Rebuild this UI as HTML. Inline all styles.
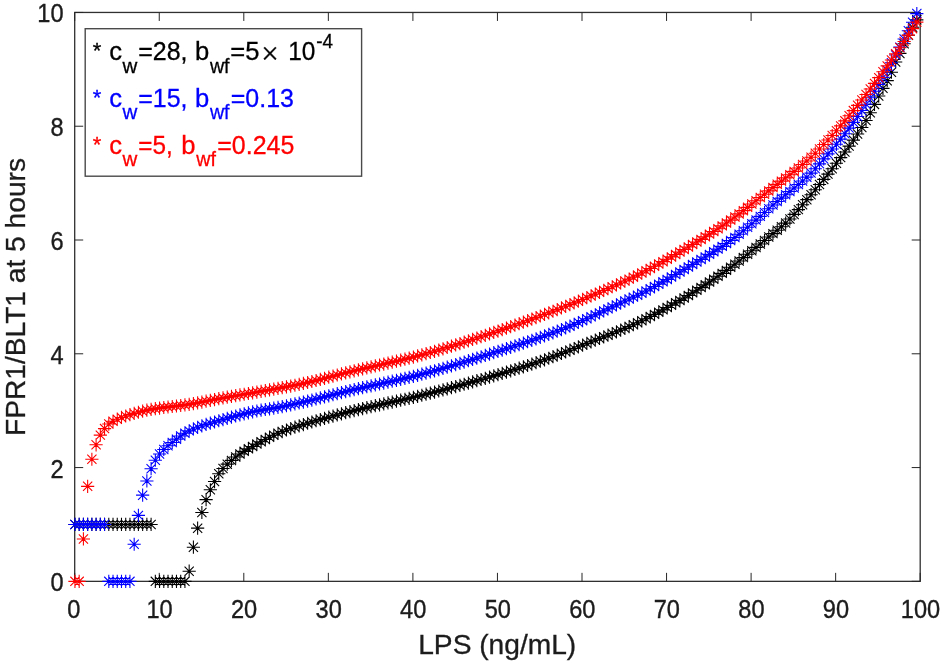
<!DOCTYPE html>
<html><head><meta charset="utf-8"><title>FPR1/BLT1 vs LPS</title>
<style>
html,body{margin:0;padding:0;background:#fff;}
svg{display:block;font-family:"Liberation Sans",sans-serif;}
</style></head>
<body>
<svg width="945" height="665" viewBox="0 0 945 665">
<rect width="945" height="665" fill="#fff"/>
<rect x="74.7" y="12.45" width="845.5" height="568.9" fill="none" stroke="#303030" stroke-width="1.3"/>
<path d="M74.70 581.35v-8.5M74.70 12.45v8.5M159.25 581.35v-8.5M159.25 12.45v8.5M243.80 581.35v-8.5M243.80 12.45v8.5M328.35 581.35v-8.5M328.35 12.45v8.5M412.90 581.35v-8.5M412.90 12.45v8.5M497.45 581.35v-8.5M497.45 12.45v8.5M582.00 581.35v-8.5M582.00 12.45v8.5M666.55 581.35v-8.5M666.55 12.45v8.5M751.10 581.35v-8.5M751.10 12.45v8.5M835.65 581.35v-8.5M835.65 12.45v8.5M920.20 581.35v-8.5M920.20 12.45v8.5M74.7 581.35h8.5M920.2 581.35h-8.5M74.7 467.57h8.5M920.2 467.57h-8.5M74.7 353.79h8.5M920.2 353.79h-8.5M74.7 240.01h8.5M920.2 240.01h-8.5M74.7 126.23h8.5M920.2 126.23h-8.5M74.7 12.45h8.5M920.2 12.45h-8.5" stroke="#262626" stroke-width="1" fill="none"/>
<path d="M68.35 524.46h13.20M74.95 517.86v13.20M70.35 519.86l9.20 9.20M70.35 529.06l9.20 -9.20M72.58 524.46h13.20M79.18 517.86v13.20M74.58 519.86l9.20 9.20M74.58 529.06l9.20 -9.20M76.81 524.46h13.20M83.41 517.86v13.20M78.81 519.86l9.20 9.20M78.81 529.06l9.20 -9.20M81.04 524.46h13.20M87.64 517.86v13.20M83.04 519.86l9.20 9.20M83.04 529.06l9.20 -9.20M85.27 524.46h13.20M91.87 517.86v13.20M87.27 519.86l9.20 9.20M87.27 529.06l9.20 -9.20M89.50 524.46h13.20M96.10 517.86v13.20M91.50 519.86l9.20 9.20M91.50 529.06l9.20 -9.20M93.73 524.46h13.20M100.33 517.86v13.20M95.73 519.86l9.20 9.20M95.73 529.06l9.20 -9.20M97.96 524.46h13.20M104.56 517.86v13.20M99.96 519.86l9.20 9.20M99.96 529.06l9.20 -9.20M102.19 524.46h13.20M108.79 517.86v13.20M104.19 519.86l9.20 9.20M104.19 529.06l9.20 -9.20M106.42 524.46h13.20M113.02 517.86v13.20M108.42 519.86l9.20 9.20M108.42 529.06l9.20 -9.20M110.66 524.46h13.20M117.25 517.86v13.20M112.66 519.86l9.20 9.20M112.66 529.06l9.20 -9.20M114.89 524.46h13.20M121.49 517.86v13.20M116.89 519.86l9.20 9.20M116.89 529.06l9.20 -9.20M119.12 524.46h13.20M125.72 517.86v13.20M121.12 519.86l9.20 9.20M121.12 529.06l9.20 -9.20M123.35 524.46h13.20M129.95 517.86v13.20M125.35 519.86l9.20 9.20M125.35 529.06l9.20 -9.20M127.58 524.46h13.20M134.18 517.86v13.20M129.58 519.86l9.20 9.20M129.58 529.06l9.20 -9.20M131.81 524.46h13.20M138.41 517.86v13.20M133.81 519.86l9.20 9.20M133.81 529.06l9.20 -9.20M136.04 524.46h13.20M142.64 517.86v13.20M138.04 519.86l9.20 9.20M138.04 529.06l9.20 -9.20M140.27 524.46h13.20M146.87 517.86v13.20M142.27 519.86l9.20 9.20M142.27 529.06l9.20 -9.20M144.50 524.46h13.20M151.10 517.86v13.20M146.50 519.86l9.20 9.20M146.50 529.06l9.20 -9.20M148.73 581.35h13.20M155.33 574.75v13.20M150.73 576.75l9.20 9.20M150.73 585.95l9.20 -9.20M152.96 581.35h13.20M159.56 574.75v13.20M154.96 576.75l9.20 9.20M154.96 585.95l9.20 -9.20M157.19 581.35h13.20M163.79 574.75v13.20M159.19 576.75l9.20 9.20M159.19 585.95l9.20 -9.20M161.42 581.35h13.20M168.02 574.75v13.20M163.42 576.75l9.20 9.20M163.42 585.95l9.20 -9.20M165.65 581.35h13.20M172.25 574.75v13.20M167.65 576.75l9.20 9.20M167.65 585.95l9.20 -9.20M169.88 581.35h13.20M176.48 574.75v13.20M171.88 576.75l9.20 9.20M171.88 585.95l9.20 -9.20M174.11 581.35h13.20M180.71 574.75v13.20M176.11 576.75l9.20 9.20M176.11 585.95l9.20 -9.20M178.34 581.35h13.20M184.94 574.75v13.20M180.34 576.75l9.20 9.20M180.34 585.95l9.20 -9.20M182.57 571.22h13.20M189.17 564.62v13.20M184.57 566.62l9.20 9.20M184.57 575.82l9.20 -9.20M186.80 547.22h13.20M193.40 540.62v13.20M188.80 542.62l9.20 9.20M188.80 551.82l9.20 -9.20M191.03 528.16h13.20M197.63 521.56v13.20M193.03 523.56l9.20 9.20M193.03 532.76l9.20 -9.20M195.27 512.51h13.20M201.87 505.91v13.20M197.27 507.91l9.20 9.20M197.27 517.11l9.20 -9.20M199.50 499.66h13.20M206.10 493.06v13.20M201.50 495.06l9.20 9.20M201.50 504.26l9.20 -9.20M203.73 489.76h13.20M210.33 483.16v13.20M205.73 485.16l9.20 9.20M205.73 494.36l9.20 -9.20M207.96 481.56h13.20M214.56 474.96v13.20M209.96 476.96l9.20 9.20M209.96 486.16l9.20 -9.20M212.19 473.83h13.20M218.79 467.23v13.20M214.19 469.23l9.20 9.20M214.19 478.43l9.20 -9.20M216.42 468.54h13.20M223.02 461.94v13.20M218.42 463.94l9.20 9.20M218.42 473.14l9.20 -9.20M220.65 464.15h13.20M227.25 457.55v13.20M222.65 459.55l9.20 9.20M222.65 468.75l9.20 -9.20M224.88 460.41h13.20M231.48 453.81v13.20M226.88 455.81l9.20 9.20M226.88 465.01l9.20 -9.20M229.11 457.06h13.20M235.71 450.46v13.20M231.11 452.46l9.20 9.20M231.11 461.66l9.20 -9.20M233.34 454.05h13.20M239.94 447.45v13.20M235.34 449.45l9.20 9.20M235.34 458.65l9.20 -9.20M237.57 451.35h13.20M244.17 444.75v13.20M239.57 446.75l9.20 9.20M239.57 455.95l9.20 -9.20M241.80 448.85h13.20M248.40 442.25v13.20M243.80 444.25l9.20 9.20M243.80 453.45l9.20 -9.20M246.03 446.47h13.20M252.63 439.87v13.20M248.03 441.87l9.20 9.20M248.03 451.07l9.20 -9.20M250.26 444.10h13.20M256.86 437.50v13.20M252.26 439.50l9.20 9.20M252.26 448.70l9.20 -9.20M254.49 441.76h13.20M261.09 435.16v13.20M256.49 437.16l9.20 9.20M256.49 446.36l9.20 -9.20M258.72 439.47h13.20M265.32 432.87v13.20M260.72 434.87l9.20 9.20M260.72 444.07l9.20 -9.20M262.95 437.27h13.20M269.55 430.67v13.20M264.95 432.67l9.20 9.20M264.95 441.87l9.20 -9.20M267.18 435.20h13.20M273.78 428.60v13.20M269.18 430.60l9.20 9.20M269.18 439.80l9.20 -9.20M271.41 433.29h13.20M278.01 426.69v13.20M273.41 428.69l9.20 9.20M273.41 437.89l9.20 -9.20M275.64 431.56h13.20M282.24 424.96v13.20M277.64 426.96l9.20 9.20M277.64 436.16l9.20 -9.20M279.87 430.00h13.20M286.47 423.40v13.20M281.87 425.40l9.20 9.20M281.87 434.60l9.20 -9.20M284.11 428.55h13.20M290.71 421.95v13.20M286.11 423.95l9.20 9.20M286.11 433.15l9.20 -9.20M288.34 427.19h13.20M294.94 420.59v13.20M290.34 422.59l9.20 9.20M290.34 431.79l9.20 -9.20M292.57 425.87h13.20M299.17 419.27v13.20M294.57 421.27l9.20 9.20M294.57 430.47l9.20 -9.20M296.80 424.56h13.20M303.40 417.96v13.20M298.80 419.96l9.20 9.20M298.80 429.16l9.20 -9.20M301.03 423.27h13.20M307.63 416.67v13.20M303.03 418.67l9.20 9.20M303.03 427.87l9.20 -9.20M305.26 422.01h13.20M311.86 415.41v13.20M307.26 417.41l9.20 9.20M307.26 426.61l9.20 -9.20M309.49 420.77h13.20M316.09 414.17v13.20M311.49 416.17l9.20 9.20M311.49 425.37l9.20 -9.20M313.72 419.56h13.20M320.32 412.96v13.20M315.72 414.96l9.20 9.20M315.72 424.16l9.20 -9.20M317.95 418.37h13.20M324.55 411.77v13.20M319.95 413.77l9.20 9.20M319.95 422.97l9.20 -9.20M322.18 417.20h13.20M328.78 410.60v13.20M324.18 412.60l9.20 9.20M324.18 421.80l9.20 -9.20M326.41 416.05h13.20M333.01 409.45v13.20M328.41 411.45l9.20 9.20M328.41 420.65l9.20 -9.20M330.64 414.92h13.20M337.24 408.32v13.20M332.64 410.32l9.20 9.20M332.64 419.52l9.20 -9.20M334.87 413.81h13.20M341.47 407.21v13.20M336.87 409.21l9.20 9.20M336.87 418.41l9.20 -9.20M339.10 412.72h13.20M345.70 406.12v13.20M341.10 408.12l9.20 9.20M341.10 417.32l9.20 -9.20M343.33 411.64h13.20M349.93 405.04v13.20M345.33 407.04l9.20 9.20M345.33 416.24l9.20 -9.20M347.56 410.59h13.20M354.16 403.99v13.20M349.56 405.99l9.20 9.20M349.56 415.19l9.20 -9.20M351.79 409.57h13.20M358.39 402.97v13.20M353.79 404.97l9.20 9.20M353.79 414.17l9.20 -9.20M356.02 408.57h13.20M362.62 401.97v13.20M358.02 403.97l9.20 9.20M358.02 413.17l9.20 -9.20M360.25 407.60h13.20M366.85 401.00v13.20M362.25 403.00l9.20 9.20M362.25 412.20l9.20 -9.20M364.48 406.65h13.20M371.08 400.05v13.20M366.48 402.05l9.20 9.20M366.48 411.25l9.20 -9.20M368.72 405.72h13.20M375.32 399.12v13.20M370.72 401.12l9.20 9.20M370.72 410.32l9.20 -9.20M372.95 404.79h13.20M379.55 398.19v13.20M374.95 400.19l9.20 9.20M374.95 409.39l9.20 -9.20M377.18 403.87h13.20M383.78 397.27v13.20M379.18 399.27l9.20 9.20M379.18 408.47l9.20 -9.20M381.41 402.96h13.20M388.01 396.36v13.20M383.41 398.36l9.20 9.20M383.41 407.56l9.20 -9.20M385.64 402.04h13.20M392.24 395.44v13.20M387.64 397.44l9.20 9.20M387.64 406.64l9.20 -9.20M389.87 401.12h13.20M396.47 394.52v13.20M391.87 396.52l9.20 9.20M391.87 405.72l9.20 -9.20M394.10 400.20h13.20M400.70 393.60v13.20M396.10 395.60l9.20 9.20M396.10 404.80l9.20 -9.20M398.33 399.25h13.20M404.93 392.65v13.20M400.33 394.65l9.20 9.20M400.33 403.85l9.20 -9.20M402.56 398.29h13.20M409.16 391.69v13.20M404.56 393.69l9.20 9.20M404.56 402.89l9.20 -9.20M406.79 397.31h13.20M413.39 390.71v13.20M408.79 392.71l9.20 9.20M408.79 401.91l9.20 -9.20M411.02 396.31h13.20M417.62 389.71v13.20M413.02 391.71l9.20 9.20M413.02 400.91l9.20 -9.20M415.25 395.27h13.20M421.85 388.67v13.20M417.25 390.67l9.20 9.20M417.25 399.87l9.20 -9.20M419.48 394.22h13.20M426.08 387.62v13.20M421.48 389.62l9.20 9.20M421.48 398.82l9.20 -9.20M423.71 393.16h13.20M430.31 386.56v13.20M425.71 388.56l9.20 9.20M425.71 397.76l9.20 -9.20M427.94 392.08h13.20M434.54 385.48v13.20M429.94 387.48l9.20 9.20M429.94 396.68l9.20 -9.20M432.17 390.99h13.20M438.77 384.39v13.20M434.17 386.39l9.20 9.20M434.17 395.59l9.20 -9.20M436.40 389.90h13.20M443.00 383.30v13.20M438.40 385.30l9.20 9.20M438.40 394.50l9.20 -9.20M440.63 388.78h13.20M447.23 382.18v13.20M442.63 384.18l9.20 9.20M442.63 393.38l9.20 -9.20M444.86 387.66h13.20M451.46 381.06v13.20M446.86 383.06l9.20 9.20M446.86 392.26l9.20 -9.20M449.09 386.53h13.20M455.69 379.93v13.20M451.09 381.93l9.20 9.20M451.09 391.13l9.20 -9.20M453.33 385.39h13.20M459.93 378.79v13.20M455.33 380.79l9.20 9.20M455.33 389.99l9.20 -9.20M457.56 384.23h13.20M464.16 377.63v13.20M459.56 379.63l9.20 9.20M459.56 388.83l9.20 -9.20M461.79 383.07h13.20M468.39 376.47v13.20M463.79 378.47l9.20 9.20M463.79 387.67l9.20 -9.20M466.02 381.89h13.20M472.62 375.29v13.20M468.02 377.29l9.20 9.20M468.02 386.49l9.20 -9.20M470.25 380.70h13.20M476.85 374.10v13.20M472.25 376.10l9.20 9.20M472.25 385.30l9.20 -9.20M474.48 379.50h13.20M481.08 372.90v13.20M476.48 374.90l9.20 9.20M476.48 384.10l9.20 -9.20M478.71 378.29h13.20M485.31 371.69v13.20M480.71 373.69l9.20 9.20M480.71 382.89l9.20 -9.20M482.94 377.08h13.20M489.54 370.48v13.20M484.94 372.48l9.20 9.20M484.94 381.68l9.20 -9.20M487.17 375.85h13.20M493.77 369.25v13.20M489.17 371.25l9.20 9.20M489.17 380.45l9.20 -9.20M491.40 374.61h13.20M498.00 368.01v13.20M493.40 370.01l9.20 9.20M493.40 379.21l9.20 -9.20M495.63 373.36h13.20M502.23 366.76v13.20M497.63 368.76l9.20 9.20M497.63 377.96l9.20 -9.20M499.86 372.09h13.20M506.46 365.49v13.20M501.86 367.49l9.20 9.20M501.86 376.69l9.20 -9.20M504.09 370.82h13.20M510.69 364.22v13.20M506.09 366.22l9.20 9.20M506.09 375.42l9.20 -9.20M508.32 369.52h13.20M514.92 362.92v13.20M510.32 364.92l9.20 9.20M510.32 374.12l9.20 -9.20M512.55 368.20h13.20M519.15 361.60v13.20M514.55 363.60l9.20 9.20M514.55 372.80l9.20 -9.20M516.78 366.87h13.20M523.38 360.27v13.20M518.78 362.27l9.20 9.20M518.78 371.47l9.20 -9.20M521.01 365.51h13.20M527.61 358.91v13.20M523.01 360.91l9.20 9.20M523.01 370.11l9.20 -9.20M525.24 364.12h13.20M531.84 357.52v13.20M527.24 359.52l9.20 9.20M527.24 368.72l9.20 -9.20M529.47 362.71h13.20M536.07 356.11v13.20M531.47 358.11l9.20 9.20M531.47 367.31l9.20 -9.20M533.71 361.27h13.20M540.31 354.67v13.20M535.71 356.67l9.20 9.20M535.71 365.87l9.20 -9.20M537.94 359.80h13.20M544.54 353.20v13.20M539.94 355.20l9.20 9.20M539.94 364.40l9.20 -9.20M542.17 358.27h13.20M548.77 351.67v13.20M544.17 353.67l9.20 9.20M544.17 362.87l9.20 -9.20M546.40 356.71h13.20M553.00 350.11v13.20M548.40 352.11l9.20 9.20M548.40 361.31l9.20 -9.20M550.63 355.11h13.20M557.23 348.51v13.20M552.63 350.51l9.20 9.20M552.63 359.71l9.20 -9.20M554.86 353.49h13.20M561.46 346.89v13.20M556.86 348.89l9.20 9.20M556.86 358.09l9.20 -9.20M559.09 351.84h13.20M565.69 345.24v13.20M561.09 347.24l9.20 9.20M561.09 356.44l9.20 -9.20M563.32 350.18h13.20M569.92 343.58v13.20M565.32 345.58l9.20 9.20M565.32 354.78l9.20 -9.20M567.55 348.50h13.20M574.15 341.90v13.20M569.55 343.90l9.20 9.20M569.55 353.10l9.20 -9.20M571.78 346.82h13.20M578.38 340.22v13.20M573.78 342.22l9.20 9.20M573.78 351.42l9.20 -9.20M576.01 345.14h13.20M582.61 338.54v13.20M578.01 340.54l9.20 9.20M578.01 349.74l9.20 -9.20M580.24 343.46h13.20M586.84 336.86v13.20M582.24 338.86l9.20 9.20M582.24 348.06l9.20 -9.20M584.47 341.80h13.20M591.07 335.20v13.20M586.47 337.20l9.20 9.20M586.47 346.40l9.20 -9.20M588.70 340.14h13.20M595.30 333.54v13.20M590.70 335.54l9.20 9.20M590.70 344.74l9.20 -9.20M592.93 338.49h13.20M599.53 331.89v13.20M594.93 333.89l9.20 9.20M594.93 343.09l9.20 -9.20M597.16 336.85h13.20M603.76 330.25v13.20M599.16 332.25l9.20 9.20M599.16 341.45l9.20 -9.20M601.39 335.19h13.20M607.99 328.59v13.20M603.39 330.59l9.20 9.20M603.39 339.79l9.20 -9.20M605.62 333.52h13.20M612.22 326.92v13.20M607.62 328.92l9.20 9.20M607.62 338.12l9.20 -9.20M609.85 331.83h13.20M616.45 325.23v13.20M611.85 327.23l9.20 9.20M611.85 336.43l9.20 -9.20M614.08 330.11h13.20M620.68 323.51v13.20M616.08 325.51l9.20 9.20M616.08 334.71l9.20 -9.20M618.32 328.36h13.20M624.92 321.76v13.20M620.32 323.76l9.20 9.20M620.32 332.96l9.20 -9.20M622.55 326.57h13.20M629.15 319.97v13.20M624.55 321.97l9.20 9.20M624.55 331.17l9.20 -9.20M626.78 324.73h13.20M633.38 318.13v13.20M628.78 320.13l9.20 9.20M628.78 329.33l9.20 -9.20M631.01 322.81h13.20M637.61 316.21v13.20M633.01 318.21l9.20 9.20M633.01 327.41l9.20 -9.20M635.24 320.78h13.20M641.84 314.18v13.20M637.24 316.18l9.20 9.20M637.24 325.38l9.20 -9.20M639.47 318.69h13.20M646.07 312.09v13.20M641.47 314.09l9.20 9.20M641.47 323.29l9.20 -9.20M643.70 316.55h13.20M650.30 309.95v13.20M645.70 311.95l9.20 9.20M645.70 321.15l9.20 -9.20M647.93 314.37h13.20M654.53 307.77v13.20M649.93 309.77l9.20 9.20M649.93 318.97l9.20 -9.20M652.16 312.15h13.20M658.76 305.55v13.20M654.16 307.55l9.20 9.20M654.16 316.75l9.20 -9.20M656.39 309.88h13.20M662.99 303.28v13.20M658.39 305.28l9.20 9.20M658.39 314.48l9.20 -9.20M660.62 307.58h13.20M667.22 300.98v13.20M662.62 302.98l9.20 9.20M662.62 312.18l9.20 -9.20M664.85 305.23h13.20M671.45 298.63v13.20M666.85 300.63l9.20 9.20M666.85 309.83l9.20 -9.20M669.08 302.84h13.20M675.68 296.24v13.20M671.08 298.24l9.20 9.20M671.08 307.44l9.20 -9.20M673.31 300.41h13.20M679.91 293.81v13.20M675.31 295.81l9.20 9.20M675.31 305.01l9.20 -9.20M677.54 297.94h13.20M684.14 291.34v13.20M679.54 293.34l9.20 9.20M679.54 302.54l9.20 -9.20M681.77 295.43h13.20M688.37 288.83v13.20M683.77 290.83l9.20 9.20M683.77 300.03l9.20 -9.20M686.00 292.87h13.20M692.60 286.27v13.20M688.00 288.27l9.20 9.20M688.00 297.47l9.20 -9.20M690.23 290.26h13.20M696.83 283.66v13.20M692.23 285.66l9.20 9.20M692.23 294.86l9.20 -9.20M694.46 287.59h13.20M701.06 280.99v13.20M696.46 282.99l9.20 9.20M696.46 292.19l9.20 -9.20M698.69 284.85h13.20M705.29 278.25v13.20M700.69 280.25l9.20 9.20M700.69 289.45l9.20 -9.20M702.93 282.06h13.20M709.53 275.46v13.20M704.93 277.46l9.20 9.20M704.93 286.66l9.20 -9.20M707.16 279.22h13.20M713.76 272.62v13.20M709.16 274.62l9.20 9.20M709.16 283.82l9.20 -9.20M711.39 276.32h13.20M717.99 269.72v13.20M713.39 271.72l9.20 9.20M713.39 280.92l9.20 -9.20M715.62 273.37h13.20M722.22 266.77v13.20M717.62 268.77l9.20 9.20M717.62 277.97l9.20 -9.20M719.85 270.37h13.20M726.45 263.77v13.20M721.85 265.77l9.20 9.20M721.85 274.97l9.20 -9.20M724.08 267.32h13.20M730.68 260.72v13.20M726.08 262.72l9.20 9.20M726.08 271.92l9.20 -9.20M728.31 264.18h13.20M734.91 257.58v13.20M730.31 259.58l9.20 9.20M730.31 268.78l9.20 -9.20M732.54 260.93h13.20M739.14 254.33v13.20M734.54 256.33l9.20 9.20M734.54 265.53l9.20 -9.20M736.77 257.60h13.20M743.37 251.00v13.20M738.77 253.00l9.20 9.20M738.77 262.20l9.20 -9.20M741.00 254.22h13.20M747.60 247.62v13.20M743.00 249.62l9.20 9.20M743.00 258.82l9.20 -9.20M745.23 250.81h13.20M751.83 244.21v13.20M747.23 246.21l9.20 9.20M747.23 255.41l9.20 -9.20M749.46 247.41h13.20M756.06 240.81v13.20M751.46 242.81l9.20 9.20M751.46 252.01l9.20 -9.20M753.69 243.99h13.20M760.29 237.39v13.20M755.69 239.39l9.20 9.20M755.69 248.59l9.20 -9.20M757.92 240.53h13.20M764.52 233.93v13.20M759.92 235.93l9.20 9.20M759.92 245.13l9.20 -9.20M762.15 237.06h13.20M768.75 230.46v13.20M764.15 232.46l9.20 9.20M764.15 241.66l9.20 -9.20M766.38 233.61h13.20M772.98 227.01v13.20M768.38 229.01l9.20 9.20M768.38 238.21l9.20 -9.20M770.61 230.27h13.20M777.21 223.67v13.20M772.61 225.67l9.20 9.20M772.61 234.87l9.20 -9.20M774.84 226.83h13.20M781.44 220.23v13.20M776.84 222.23l9.20 9.20M776.84 231.43l9.20 -9.20M779.07 223.10h13.20M785.67 216.50v13.20M781.07 218.50l9.20 9.20M781.07 227.70l9.20 -9.20M783.30 218.93h13.20M789.90 212.33v13.20M785.30 214.33l9.20 9.20M785.30 223.53l9.20 -9.20M787.53 214.41h13.20M794.13 207.81v13.20M789.53 209.81l9.20 9.20M789.53 219.01l9.20 -9.20M791.77 209.62h13.20M798.37 203.02v13.20M793.77 205.02l9.20 9.20M793.77 214.22l9.20 -9.20M796.00 204.67h13.20M802.60 198.07v13.20M798.00 200.07l9.20 9.20M798.00 209.27l9.20 -9.20M800.23 199.66h13.20M806.83 193.06v13.20M802.23 195.06l9.20 9.20M802.23 204.26l9.20 -9.20M804.46 194.67h13.20M811.06 188.07v13.20M806.46 190.07l9.20 9.20M806.46 199.27l9.20 -9.20M808.69 189.67h13.20M815.29 183.07v13.20M810.69 185.07l9.20 9.20M810.69 194.27l9.20 -9.20M812.92 184.58h13.20M819.52 177.98v13.20M814.92 179.98l9.20 9.20M814.92 189.18l9.20 -9.20M817.15 179.40h13.20M823.75 172.80v13.20M819.15 174.80l9.20 9.20M819.15 184.00l9.20 -9.20M821.38 174.13h13.20M827.98 167.53v13.20M823.38 169.53l9.20 9.20M823.38 178.73l9.20 -9.20M825.61 168.76h13.20M832.21 162.16v13.20M827.61 164.16l9.20 9.20M827.61 173.36l9.20 -9.20M829.84 163.21h13.20M836.44 156.61v13.20M831.84 158.61l9.20 9.20M831.84 167.81l9.20 -9.20M834.07 157.63h13.20M840.67 151.03v13.20M836.07 153.03l9.20 9.20M836.07 162.23l9.20 -9.20M838.30 151.99h13.20M844.90 145.39v13.20M840.30 147.39l9.20 9.20M840.30 156.59l9.20 -9.20M842.53 146.14h13.20M849.13 139.54v13.20M844.53 141.54l9.20 9.20M844.53 150.74l9.20 -9.20M846.76 140.11h13.20M853.36 133.51v13.20M848.76 135.51l9.20 9.20M848.76 144.71l9.20 -9.20M850.99 133.94h13.20M857.59 127.34v13.20M852.99 129.34l9.20 9.20M852.99 138.54l9.20 -9.20M855.22 127.47h13.20M861.82 120.87v13.20M857.22 122.87l9.20 9.20M857.22 132.07l9.20 -9.20M859.45 120.54h13.20M866.05 113.94v13.20M861.45 115.94l9.20 9.20M861.45 125.14l9.20 -9.20M863.68 112.78h13.20M870.28 106.18v13.20M865.68 108.18l9.20 9.20M865.68 117.38l9.20 -9.20M867.91 104.40h13.20M874.51 97.80v13.20M869.91 99.80l9.20 9.20M869.91 109.00l9.20 -9.20M872.15 96.08h13.20M878.75 89.48v13.20M874.15 91.48l9.20 9.20M874.15 100.68l9.20 -9.20M876.38 88.34h13.20M882.98 81.74v13.20M878.38 83.74l9.20 9.20M878.38 92.94l9.20 -9.20M880.61 80.66h13.20M887.21 74.06v13.20M882.61 76.06l9.20 9.20M882.61 85.26l9.20 -9.20M884.84 72.18h13.20M891.44 65.58v13.20M886.84 67.58l9.20 9.20M886.84 76.78l9.20 -9.20M889.07 61.94h13.20M895.67 55.34v13.20M891.07 57.34l9.20 9.20M891.07 66.54l9.20 -9.20M893.30 53.41h13.20M899.90 46.81v13.20M895.30 48.81l9.20 9.20M895.30 58.01l9.20 -9.20M897.53 43.74h13.20M904.13 37.14v13.20M899.53 39.14l9.20 9.20M899.53 48.34l9.20 -9.20M901.76 35.21h13.20M908.36 28.61v13.20M903.76 30.61l9.20 9.20M903.76 39.81l9.20 -9.20M905.99 27.24h13.20M912.59 20.64v13.20M907.99 22.64l9.20 9.20M907.99 31.84l9.20 -9.20M910.22 19.85h13.20M916.82 13.25v13.20M912.22 15.25l9.20 9.20M912.22 24.45l9.20 -9.20" stroke="#000" stroke-width="1.08" fill="none"/>
<path d="M68.35 524.46h13.20M74.95 517.86v13.20M70.35 519.86l9.20 9.20M70.35 529.06l9.20 -9.20M72.58 524.46h13.20M79.18 517.86v13.20M74.58 519.86l9.20 9.20M74.58 529.06l9.20 -9.20M76.81 524.46h13.20M83.41 517.86v13.20M78.81 519.86l9.20 9.20M78.81 529.06l9.20 -9.20M81.04 524.46h13.20M87.64 517.86v13.20M83.04 519.86l9.20 9.20M83.04 529.06l9.20 -9.20M85.27 524.46h13.20M91.87 517.86v13.20M87.27 519.86l9.20 9.20M87.27 529.06l9.20 -9.20M89.50 524.46h13.20M96.10 517.86v13.20M91.50 519.86l9.20 9.20M91.50 529.06l9.20 -9.20M93.73 524.46h13.20M100.33 517.86v13.20M95.73 519.86l9.20 9.20M95.73 529.06l9.20 -9.20M97.96 524.46h13.20M104.56 517.86v13.20M99.96 519.86l9.20 9.20M99.96 529.06l9.20 -9.20M102.19 581.35h13.20M108.79 574.75v13.20M104.19 576.75l9.20 9.20M104.19 585.95l9.20 -9.20M106.42 581.35h13.20M113.02 574.75v13.20M108.42 576.75l9.20 9.20M108.42 585.95l9.20 -9.20M110.66 581.35h13.20M117.25 574.75v13.20M112.66 576.75l9.20 9.20M112.66 585.95l9.20 -9.20M114.89 581.35h13.20M121.49 574.75v13.20M116.89 576.75l9.20 9.20M116.89 585.95l9.20 -9.20M119.12 581.35h13.20M125.72 574.75v13.20M121.12 576.75l9.20 9.20M121.12 585.95l9.20 -9.20M123.35 581.35h13.20M129.95 574.75v13.20M125.35 576.75l9.20 9.20M125.35 585.95l9.20 -9.20M127.58 544.26h13.20M134.18 537.66v13.20M129.58 539.66l9.20 9.20M129.58 548.86l9.20 -9.20M131.81 515.36h13.20M138.41 508.76v13.20M133.81 510.76l9.20 9.20M133.81 519.96l9.20 -9.20M136.04 495.16h13.20M142.64 488.56v13.20M138.04 490.56l9.20 9.20M138.04 499.76l9.20 -9.20M140.27 480.94h13.20M146.87 474.34v13.20M142.27 476.34l9.20 9.20M142.27 485.54l9.20 -9.20M144.50 468.71h13.20M151.10 462.11v13.20M146.50 464.11l9.20 9.20M146.50 473.31l9.20 -9.20M148.73 460.17h13.20M155.33 453.57v13.20M150.73 455.57l9.20 9.20M150.73 464.77l9.20 -9.20M152.96 453.92h13.20M159.56 447.32v13.20M154.96 449.32l9.20 9.20M154.96 458.52l9.20 -9.20M157.19 449.48h13.20M163.79 442.88v13.20M159.19 444.88l9.20 9.20M159.19 454.08l9.20 -9.20M161.42 445.80h13.20M168.02 439.20v13.20M163.42 441.20l9.20 9.20M163.42 450.40l9.20 -9.20M165.65 442.44h13.20M172.25 435.84v13.20M167.65 437.84l9.20 9.20M167.65 447.04l9.20 -9.20M169.88 439.16h13.20M176.48 432.56v13.20M171.88 434.56l9.20 9.20M171.88 443.76l9.20 -9.20M174.11 436.05h13.20M180.71 429.45v13.20M176.11 431.45l9.20 9.20M176.11 440.65l9.20 -9.20M178.34 433.24h13.20M184.94 426.64v13.20M180.34 428.64l9.20 9.20M180.34 437.84l9.20 -9.20M182.57 430.87h13.20M189.17 424.27v13.20M184.57 426.27l9.20 9.20M184.57 435.47l9.20 -9.20M186.80 428.97h13.20M193.40 422.37v13.20M188.80 424.37l9.20 9.20M188.80 433.57l9.20 -9.20M191.03 427.31h13.20M197.63 420.71v13.20M193.03 422.71l9.20 9.20M193.03 431.91l9.20 -9.20M195.27 425.82h13.20M201.87 419.22v13.20M197.27 421.22l9.20 9.20M197.27 430.42l9.20 -9.20M199.50 424.46h13.20M206.10 417.86v13.20M201.50 419.86l9.20 9.20M201.50 429.06l9.20 -9.20M203.73 423.19h13.20M210.33 416.59v13.20M205.73 418.59l9.20 9.20M205.73 427.79l9.20 -9.20M207.96 421.98h13.20M214.56 415.38v13.20M209.96 417.38l9.20 9.20M209.96 426.58l9.20 -9.20M212.19 420.77h13.20M218.79 414.17v13.20M214.19 416.17l9.20 9.20M214.19 425.37l9.20 -9.20M216.42 419.54h13.20M223.02 412.94v13.20M218.42 414.94l9.20 9.20M218.42 424.14l9.20 -9.20M220.65 418.33h13.20M227.25 411.73v13.20M222.65 413.73l9.20 9.20M222.65 422.93l9.20 -9.20M224.88 417.15h13.20M231.48 410.55v13.20M226.88 412.55l9.20 9.20M226.88 421.75l9.20 -9.20M229.11 416.00h13.20M235.71 409.40v13.20M231.11 411.40l9.20 9.20M231.11 420.60l9.20 -9.20M233.34 414.89h13.20M239.94 408.29v13.20M235.34 410.29l9.20 9.20M235.34 419.49l9.20 -9.20M237.57 413.82h13.20M244.17 407.22v13.20M239.57 409.22l9.20 9.20M239.57 418.42l9.20 -9.20M241.80 412.82h13.20M248.40 406.22v13.20M243.80 408.22l9.20 9.20M243.80 417.42l9.20 -9.20M246.03 411.87h13.20M252.63 405.27v13.20M248.03 407.27l9.20 9.20M248.03 416.47l9.20 -9.20M250.26 411.00h13.20M256.86 404.40v13.20M252.26 406.40l9.20 9.20M252.26 415.60l9.20 -9.20M254.49 410.21h13.20M261.09 403.61v13.20M256.49 405.61l9.20 9.20M256.49 414.81l9.20 -9.20M258.72 409.50h13.20M265.32 402.90v13.20M260.72 404.90l9.20 9.20M260.72 414.10l9.20 -9.20M262.95 408.83h13.20M269.55 402.23v13.20M264.95 404.23l9.20 9.20M264.95 413.43l9.20 -9.20M267.18 408.14h13.20M273.78 401.54v13.20M269.18 403.54l9.20 9.20M269.18 412.74l9.20 -9.20M271.41 407.42h13.20M278.01 400.82v13.20M273.41 402.82l9.20 9.20M273.41 412.02l9.20 -9.20M275.64 406.62h13.20M282.24 400.02v13.20M277.64 402.02l9.20 9.20M277.64 411.22l9.20 -9.20M279.87 405.77h13.20M286.47 399.17v13.20M281.87 401.17l9.20 9.20M281.87 410.37l9.20 -9.20M284.11 404.87h13.20M290.71 398.27v13.20M286.11 400.27l9.20 9.20M286.11 409.47l9.20 -9.20M288.34 403.95h13.20M294.94 397.35v13.20M290.34 399.35l9.20 9.20M290.34 408.55l9.20 -9.20M292.57 403.00h13.20M299.17 396.40v13.20M294.57 398.40l9.20 9.20M294.57 407.60l9.20 -9.20M296.80 402.04h13.20M303.40 395.44v13.20M298.80 397.44l9.20 9.20M298.80 406.64l9.20 -9.20M301.03 401.05h13.20M307.63 394.45v13.20M303.03 396.45l9.20 9.20M303.03 405.65l9.20 -9.20M305.26 400.03h13.20M311.86 393.43v13.20M307.26 395.43l9.20 9.20M307.26 404.63l9.20 -9.20M309.49 398.99h13.20M316.09 392.39v13.20M311.49 394.39l9.20 9.20M311.49 403.59l9.20 -9.20M313.72 397.94h13.20M320.32 391.34v13.20M315.72 393.34l9.20 9.20M315.72 402.54l9.20 -9.20M317.95 396.88h13.20M324.55 390.28v13.20M319.95 392.28l9.20 9.20M319.95 401.48l9.20 -9.20M322.18 395.81h13.20M328.78 389.21v13.20M324.18 391.21l9.20 9.20M324.18 400.41l9.20 -9.20M326.41 394.75h13.20M333.01 388.15v13.20M328.41 390.15l9.20 9.20M328.41 399.35l9.20 -9.20M330.64 393.68h13.20M337.24 387.08v13.20M332.64 389.08l9.20 9.20M332.64 398.28l9.20 -9.20M334.87 392.63h13.20M341.47 386.03v13.20M336.87 388.03l9.20 9.20M336.87 397.23l9.20 -9.20M339.10 391.60h13.20M345.70 385.00v13.20M341.10 387.00l9.20 9.20M341.10 396.20l9.20 -9.20M343.33 390.58h13.20M349.93 383.98v13.20M345.33 385.98l9.20 9.20M345.33 395.18l9.20 -9.20M347.56 389.59h13.20M354.16 382.99v13.20M349.56 384.99l9.20 9.20M349.56 394.19l9.20 -9.20M351.79 388.63h13.20M358.39 382.03v13.20M353.79 384.03l9.20 9.20M353.79 393.23l9.20 -9.20M356.02 387.68h13.20M362.62 381.08v13.20M358.02 383.08l9.20 9.20M358.02 392.28l9.20 -9.20M360.25 386.74h13.20M366.85 380.14v13.20M362.25 382.14l9.20 9.20M362.25 391.34l9.20 -9.20M364.48 385.81h13.20M371.08 379.21v13.20M366.48 381.21l9.20 9.20M366.48 390.41l9.20 -9.20M368.72 384.89h13.20M375.32 378.29v13.20M370.72 380.29l9.20 9.20M370.72 389.49l9.20 -9.20M372.95 383.98h13.20M379.55 377.38v13.20M374.95 379.38l9.20 9.20M374.95 388.58l9.20 -9.20M377.18 383.06h13.20M383.78 376.46v13.20M379.18 378.46l9.20 9.20M379.18 387.66l9.20 -9.20M381.41 382.14h13.20M388.01 375.54v13.20M383.41 377.54l9.20 9.20M383.41 386.74l9.20 -9.20M385.64 381.22h13.20M392.24 374.62v13.20M387.64 376.62l9.20 9.20M387.64 385.82l9.20 -9.20M389.87 380.28h13.20M396.47 373.68v13.20M391.87 375.68l9.20 9.20M391.87 384.88l9.20 -9.20M394.10 379.32h13.20M400.70 372.72v13.20M396.10 374.72l9.20 9.20M396.10 383.92l9.20 -9.20M398.33 378.35h13.20M404.93 371.75v13.20M400.33 373.75l9.20 9.20M400.33 382.95l9.20 -9.20M402.56 377.36h13.20M409.16 370.76v13.20M404.56 372.76l9.20 9.20M404.56 381.96l9.20 -9.20M406.79 376.34h13.20M413.39 369.74v13.20M408.79 371.74l9.20 9.20M408.79 380.94l9.20 -9.20M411.02 375.29h13.20M417.62 368.69v13.20M413.02 370.69l9.20 9.20M413.02 379.89l9.20 -9.20M415.25 374.20h13.20M421.85 367.60v13.20M417.25 369.60l9.20 9.20M417.25 378.80l9.20 -9.20M419.48 373.09h13.20M426.08 366.49v13.20M421.48 368.49l9.20 9.20M421.48 377.69l9.20 -9.20M423.71 371.95h13.20M430.31 365.35v13.20M425.71 367.35l9.20 9.20M425.71 376.55l9.20 -9.20M427.94 370.78h13.20M434.54 364.18v13.20M429.94 366.18l9.20 9.20M429.94 375.38l9.20 -9.20M432.17 369.59h13.20M438.77 362.99v13.20M434.17 364.99l9.20 9.20M434.17 374.19l9.20 -9.20M436.40 368.38h13.20M443.00 361.78v13.20M438.40 363.78l9.20 9.20M438.40 372.98l9.20 -9.20M440.63 367.14h13.20M447.23 360.54v13.20M442.63 362.54l9.20 9.20M442.63 371.74l9.20 -9.20M444.86 365.89h13.20M451.46 359.29v13.20M446.86 361.29l9.20 9.20M446.86 370.49l9.20 -9.20M449.09 364.62h13.20M455.69 358.02v13.20M451.09 360.02l9.20 9.20M451.09 369.22l9.20 -9.20M453.33 363.33h13.20M459.93 356.73v13.20M455.33 358.73l9.20 9.20M455.33 367.93l9.20 -9.20M457.56 362.03h13.20M464.16 355.43v13.20M459.56 357.43l9.20 9.20M459.56 366.63l9.20 -9.20M461.79 360.72h13.20M468.39 354.12v13.20M463.79 356.12l9.20 9.20M463.79 365.32l9.20 -9.20M466.02 359.40h13.20M472.62 352.80v13.20M468.02 354.80l9.20 9.20M468.02 364.00l9.20 -9.20M470.25 358.07h13.20M476.85 351.47v13.20M472.25 353.47l9.20 9.20M472.25 362.67l9.20 -9.20M474.48 356.74h13.20M481.08 350.14v13.20M476.48 352.14l9.20 9.20M476.48 361.34l9.20 -9.20M478.71 355.40h13.20M485.31 348.80v13.20M480.71 350.80l9.20 9.20M480.71 360.00l9.20 -9.20M482.94 354.06h13.20M489.54 347.46v13.20M484.94 349.46l9.20 9.20M484.94 358.66l9.20 -9.20M487.17 352.72h13.20M493.77 346.12v13.20M489.17 348.12l9.20 9.20M489.17 357.32l9.20 -9.20M491.40 351.37h13.20M498.00 344.77v13.20M493.40 346.77l9.20 9.20M493.40 355.97l9.20 -9.20M495.63 350.03h13.20M502.23 343.43v13.20M497.63 345.43l9.20 9.20M497.63 354.63l9.20 -9.20M499.86 348.68h13.20M506.46 342.08v13.20M501.86 344.08l9.20 9.20M501.86 353.28l9.20 -9.20M504.09 347.32h13.20M510.69 340.72v13.20M506.09 342.72l9.20 9.20M506.09 351.92l9.20 -9.20M508.32 345.95h13.20M514.92 339.35v13.20M510.32 341.35l9.20 9.20M510.32 350.55l9.20 -9.20M512.55 344.56h13.20M519.15 337.96v13.20M514.55 339.96l9.20 9.20M514.55 349.16l9.20 -9.20M516.78 343.17h13.20M523.38 336.57v13.20M518.78 338.57l9.20 9.20M518.78 347.77l9.20 -9.20M521.01 341.75h13.20M527.61 335.15v13.20M523.01 337.15l9.20 9.20M523.01 346.35l9.20 -9.20M525.24 340.32h13.20M531.84 333.72v13.20M527.24 335.72l9.20 9.20M527.24 344.92l9.20 -9.20M529.47 338.87h13.20M536.07 332.27v13.20M531.47 334.27l9.20 9.20M531.47 343.47l9.20 -9.20M533.71 337.39h13.20M540.31 330.79v13.20M535.71 332.79l9.20 9.20M535.71 341.99l9.20 -9.20M537.94 335.89h13.20M544.54 329.29v13.20M539.94 331.29l9.20 9.20M539.94 340.49l9.20 -9.20M542.17 334.35h13.20M548.77 327.75v13.20M544.17 329.75l9.20 9.20M544.17 338.95l9.20 -9.20M546.40 332.79h13.20M553.00 326.19v13.20M548.40 328.19l9.20 9.20M548.40 337.39l9.20 -9.20M550.63 331.20h13.20M557.23 324.60v13.20M552.63 326.60l9.20 9.20M552.63 335.80l9.20 -9.20M554.86 329.57h13.20M561.46 322.97v13.20M556.86 324.97l9.20 9.20M556.86 334.17l9.20 -9.20M559.09 327.88h13.20M565.69 321.28v13.20M561.09 323.28l9.20 9.20M561.09 332.48l9.20 -9.20M563.32 326.15h13.20M569.92 319.55v13.20M565.32 321.55l9.20 9.20M565.32 330.75l9.20 -9.20M567.55 324.36h13.20M574.15 317.76v13.20M569.55 319.76l9.20 9.20M569.55 328.96l9.20 -9.20M571.78 322.52h13.20M578.38 315.92v13.20M573.78 317.92l9.20 9.20M573.78 327.12l9.20 -9.20M576.01 320.65h13.20M582.61 314.05v13.20M578.01 316.05l9.20 9.20M578.01 325.25l9.20 -9.20M580.24 318.74h13.20M586.84 312.14v13.20M582.24 314.14l9.20 9.20M582.24 323.34l9.20 -9.20M584.47 316.80h13.20M591.07 310.20v13.20M586.47 312.20l9.20 9.20M586.47 321.40l9.20 -9.20M588.70 314.85h13.20M595.30 308.25v13.20M590.70 310.25l9.20 9.20M590.70 319.45l9.20 -9.20M592.93 312.87h13.20M599.53 306.27v13.20M594.93 308.27l9.20 9.20M594.93 317.47l9.20 -9.20M597.16 310.88h13.20M603.76 304.28v13.20M599.16 306.28l9.20 9.20M599.16 315.48l9.20 -9.20M601.39 308.89h13.20M607.99 302.29v13.20M603.39 304.29l9.20 9.20M603.39 313.49l9.20 -9.20M605.62 306.89h13.20M612.22 300.29v13.20M607.62 302.29l9.20 9.20M607.62 311.49l9.20 -9.20M609.85 304.90h13.20M616.45 298.30v13.20M611.85 300.30l9.20 9.20M611.85 309.50l9.20 -9.20M614.08 302.92h13.20M620.68 296.32v13.20M616.08 298.32l9.20 9.20M616.08 307.52l9.20 -9.20M618.32 300.96h13.20M624.92 294.36v13.20M620.32 296.36l9.20 9.20M620.32 305.56l9.20 -9.20M622.55 299.02h13.20M629.15 292.42v13.20M624.55 294.42l9.20 9.20M624.55 303.62l9.20 -9.20M626.78 297.11h13.20M633.38 290.51v13.20M628.78 292.51l9.20 9.20M628.78 301.71l9.20 -9.20M631.01 295.21h13.20M637.61 288.61v13.20M633.01 290.61l9.20 9.20M633.01 299.81l9.20 -9.20M635.24 293.18h13.20M641.84 286.58v13.20M637.24 288.58l9.20 9.20M637.24 297.78l9.20 -9.20M639.47 291.04h13.20M646.07 284.44v13.20M641.47 286.44l9.20 9.20M641.47 295.64l9.20 -9.20M643.70 288.83h13.20M650.30 282.23v13.20M645.70 284.23l9.20 9.20M645.70 293.43l9.20 -9.20M647.93 286.56h13.20M654.53 279.96v13.20M649.93 281.96l9.20 9.20M649.93 291.16l9.20 -9.20M652.16 284.22h13.20M658.76 277.62v13.20M654.16 279.62l9.20 9.20M654.16 288.82l9.20 -9.20M656.39 281.85h13.20M662.99 275.25v13.20M658.39 277.25l9.20 9.20M658.39 286.45l9.20 -9.20M660.62 279.43h13.20M667.22 272.83v13.20M662.62 274.83l9.20 9.20M662.62 284.03l9.20 -9.20M664.85 276.97h13.20M671.45 270.37v13.20M666.85 272.37l9.20 9.20M666.85 281.57l9.20 -9.20M669.08 274.49h13.20M675.68 267.89v13.20M671.08 269.89l9.20 9.20M671.08 279.09l9.20 -9.20M673.31 271.99h13.20M679.91 265.39v13.20M675.31 267.39l9.20 9.20M675.31 276.59l9.20 -9.20M677.54 269.48h13.20M684.14 262.88v13.20M679.54 264.88l9.20 9.20M679.54 274.08l9.20 -9.20M681.77 266.97h13.20M688.37 260.37v13.20M683.77 262.37l9.20 9.20M683.77 271.57l9.20 -9.20M686.00 264.46h13.20M692.60 257.86v13.20M688.00 259.86l9.20 9.20M688.00 269.06l9.20 -9.20M690.23 261.96h13.20M696.83 255.36v13.20M692.23 257.36l9.20 9.20M692.23 266.56l9.20 -9.20M694.46 259.45h13.20M701.06 252.85v13.20M696.46 254.85l9.20 9.20M696.46 264.05l9.20 -9.20M698.69 256.93h13.20M705.29 250.33v13.20M700.69 252.33l9.20 9.20M700.69 261.53l9.20 -9.20M702.93 254.38h13.20M709.53 247.78v13.20M704.93 249.78l9.20 9.20M704.93 258.98l9.20 -9.20M707.16 251.78h13.20M713.76 245.18v13.20M709.16 247.18l9.20 9.20M709.16 256.38l9.20 -9.20M711.39 249.11h13.20M717.99 242.51v13.20M713.39 244.51l9.20 9.20M713.39 253.71l9.20 -9.20M715.62 246.37h13.20M722.22 239.77v13.20M717.62 241.77l9.20 9.20M717.62 250.97l9.20 -9.20M719.85 243.53h13.20M726.45 236.93v13.20M721.85 238.93l9.20 9.20M721.85 248.13l9.20 -9.20M724.08 240.58h13.20M730.68 233.98v13.20M726.08 235.98l9.20 9.20M726.08 245.18l9.20 -9.20M728.31 237.47h13.20M734.91 230.87v13.20M730.31 232.87l9.20 9.20M730.31 242.07l9.20 -9.20M732.54 234.20h13.20M739.14 227.60v13.20M734.54 229.60l9.20 9.20M734.54 238.80l9.20 -9.20M736.77 230.79h13.20M743.37 224.19v13.20M738.77 226.19l9.20 9.20M738.77 235.39l9.20 -9.20M741.00 227.27h13.20M747.60 220.67v13.20M743.00 222.67l9.20 9.20M743.00 231.87l9.20 -9.20M745.23 223.70h13.20M751.83 217.10v13.20M747.23 219.10l9.20 9.20M747.23 228.30l9.20 -9.20M749.46 220.10h13.20M756.06 213.50v13.20M751.46 215.50l9.20 9.20M751.46 224.70l9.20 -9.20M753.69 216.39h13.20M760.29 209.79v13.20M755.69 211.79l9.20 9.20M755.69 220.99l9.20 -9.20M757.92 212.55h13.20M764.52 205.95v13.20M759.92 207.95l9.20 9.20M759.92 217.15l9.20 -9.20M762.15 208.73h13.20M768.75 202.13v13.20M764.15 204.13l9.20 9.20M764.15 213.33l9.20 -9.20M766.38 205.05h13.20M772.98 198.45v13.20M768.38 200.45l9.20 9.20M768.38 209.65l9.20 -9.20M770.61 201.53h13.20M777.21 194.93v13.20M772.61 196.93l9.20 9.20M772.61 206.13l9.20 -9.20M774.84 198.12h13.20M781.44 191.52v13.20M776.84 193.52l9.20 9.20M776.84 202.72l9.20 -9.20M779.07 194.77h13.20M785.67 188.17v13.20M781.07 190.17l9.20 9.20M781.07 199.37l9.20 -9.20M783.30 191.43h13.20M789.90 184.83v13.20M785.30 186.83l9.20 9.20M785.30 196.03l9.20 -9.20M787.53 188.04h13.20M794.13 181.44v13.20M789.53 183.44l9.20 9.20M789.53 192.64l9.20 -9.20M791.77 184.57h13.20M798.37 177.97v13.20M793.77 179.97l9.20 9.20M793.77 189.17l9.20 -9.20M796.00 180.95h13.20M802.60 174.35v13.20M798.00 176.35l9.20 9.20M798.00 185.55l9.20 -9.20M800.23 177.15h13.20M806.83 170.55v13.20M802.23 172.55l9.20 9.20M802.23 181.75l9.20 -9.20M804.46 173.11h13.20M811.06 166.51v13.20M806.46 168.51l9.20 9.20M806.46 177.71l9.20 -9.20M808.69 168.68h13.20M815.29 162.08v13.20M810.69 164.08l9.20 9.20M810.69 173.28l9.20 -9.20M812.92 163.89h13.20M819.52 157.29v13.20M814.92 159.29l9.20 9.20M814.92 168.49l9.20 -9.20M817.15 158.91h13.20M823.75 152.31v13.20M819.15 154.31l9.20 9.20M819.15 163.51l9.20 -9.20M821.38 153.91h13.20M827.98 147.31v13.20M823.38 149.31l9.20 9.20M823.38 158.51l9.20 -9.20M825.61 149.08h13.20M832.21 142.48v13.20M827.61 144.48l9.20 9.20M827.61 153.68l9.20 -9.20M829.84 144.32h13.20M836.44 137.72v13.20M831.84 139.72l9.20 9.20M831.84 148.92l9.20 -9.20M834.07 139.09h13.20M840.67 132.49v13.20M836.07 134.49l9.20 9.20M836.07 143.69l9.20 -9.20M838.30 133.69h13.20M844.90 127.09v13.20M840.30 129.09l9.20 9.20M840.30 138.29l9.20 -9.20M842.53 128.12h13.20M849.13 121.52v13.20M844.53 123.52l9.20 9.20M844.53 132.72l9.20 -9.20M846.76 122.39h13.20M853.36 115.79v13.20M848.76 117.79l9.20 9.20M848.76 126.99l9.20 -9.20M850.99 116.49h13.20M857.59 109.89v13.20M852.99 111.89l9.20 9.20M852.99 121.09l9.20 -9.20M855.22 110.42h13.20M861.82 103.82v13.20M857.22 105.82l9.20 9.20M857.22 115.02l9.20 -9.20M859.45 104.17h13.20M866.05 97.57v13.20M861.45 99.57l9.20 9.20M861.45 108.77l9.20 -9.20M863.68 97.76h13.20M870.28 91.16v13.20M865.68 93.16l9.20 9.20M865.68 102.36l9.20 -9.20M867.91 91.17h13.20M874.51 84.57v13.20M869.91 86.57l9.20 9.20M869.91 95.77l9.20 -9.20M872.15 84.41h13.20M878.75 77.81v13.20M874.15 79.81l9.20 9.20M874.15 89.01l9.20 -9.20M876.38 77.40h13.20M882.98 70.80v13.20M878.38 72.80l9.20 9.20M878.38 82.00l9.20 -9.20M880.61 70.17h13.20M887.21 63.57v13.20M882.61 65.57l9.20 9.20M882.61 74.77l9.20 -9.20M884.84 62.70h13.20M891.44 56.10v13.20M886.84 58.10l9.20 9.20M886.84 67.30l9.20 -9.20M889.07 55.02h13.20M895.67 48.42v13.20M891.07 50.42l9.20 9.20M891.07 59.62l9.20 -9.20M893.30 47.12h13.20M899.90 40.52v13.20M895.30 42.52l9.20 9.20M895.30 51.72l9.20 -9.20M897.53 39.03h13.20M904.13 32.43v13.20M899.53 34.43l9.20 9.20M899.53 43.63l9.20 -9.20M901.76 30.73h13.20M908.36 24.13v13.20M903.76 26.13l9.20 9.20M903.76 35.33l9.20 -9.20M905.99 22.25h13.20M912.59 15.65v13.20M907.99 17.65l9.20 9.20M907.99 26.85l9.20 -9.20M910.22 13.59h13.20M916.82 6.99v13.20M912.22 8.99l9.20 9.20M912.22 18.19l9.20 -9.20" stroke="#0000ff" stroke-width="1.08" fill="none"/>
<path d="M68.35 581.35h13.20M74.95 574.75v13.20M70.35 576.75l9.20 9.20M70.35 585.95l9.20 -9.20M72.58 581.35h13.20M79.18 574.75v13.20M74.58 576.75l9.20 9.20M74.58 585.95l9.20 -9.20M76.81 538.97h13.20M83.41 532.37v13.20M78.81 534.37l9.20 9.20M78.81 543.57l9.20 -9.20M81.04 486.34h13.20M87.64 479.74v13.20M83.04 481.74l9.20 9.20M83.04 490.94l9.20 -9.20M85.27 459.26h13.20M91.87 452.66v13.20M87.27 454.66l9.20 9.20M87.27 463.86l9.20 -9.20M89.50 444.81h13.20M96.10 438.21v13.20M91.50 440.21l9.20 9.20M91.50 449.41l9.20 -9.20M93.73 435.14h13.20M100.33 428.54v13.20M95.73 430.54l9.20 9.20M95.73 439.74l9.20 -9.20M97.96 428.60h13.20M104.56 422.00v13.20M99.96 424.00l9.20 9.20M99.96 433.20l9.20 -9.20M102.19 424.05h13.20M108.79 417.45v13.20M104.19 419.45l9.20 9.20M104.19 428.65l9.20 -9.20M106.42 421.29h13.20M113.02 414.69v13.20M108.42 416.69l9.20 9.20M108.42 425.89l9.20 -9.20M110.66 419.21h13.20M117.25 412.61v13.20M112.66 414.61l9.20 9.20M112.66 423.81l9.20 -9.20M114.89 417.47h13.20M121.49 410.87v13.20M116.89 412.87l9.20 9.20M116.89 422.07l9.20 -9.20M119.12 415.99h13.20M125.72 409.39v13.20M121.12 411.39l9.20 9.20M121.12 420.59l9.20 -9.20M123.35 414.66h13.20M129.95 408.06v13.20M125.35 410.06l9.20 9.20M125.35 419.26l9.20 -9.20M127.58 413.42h13.20M134.18 406.82v13.20M129.58 408.82l9.20 9.20M129.58 418.02l9.20 -9.20M131.81 412.25h13.20M138.41 405.65v13.20M133.81 407.65l9.20 9.20M133.81 416.85l9.20 -9.20M136.04 411.17h13.20M142.64 404.57v13.20M138.04 406.57l9.20 9.20M138.04 415.77l9.20 -9.20M140.27 410.21h13.20M146.87 403.61v13.20M142.27 405.61l9.20 9.20M142.27 414.81l9.20 -9.20M144.50 409.39h13.20M151.10 402.79v13.20M146.50 404.79l9.20 9.20M146.50 413.99l9.20 -9.20M148.73 408.69h13.20M155.33 402.09v13.20M150.73 404.09l9.20 9.20M150.73 413.29l9.20 -9.20M152.96 408.07h13.20M159.56 401.47v13.20M154.96 403.47l9.20 9.20M154.96 412.67l9.20 -9.20M157.19 407.51h13.20M163.79 400.91v13.20M159.19 402.91l9.20 9.20M159.19 412.11l9.20 -9.20M161.42 407.00h13.20M168.02 400.40v13.20M163.42 402.40l9.20 9.20M163.42 411.60l9.20 -9.20M165.65 406.50h13.20M172.25 399.90v13.20M167.65 401.90l9.20 9.20M167.65 411.10l9.20 -9.20M169.88 406.01h13.20M176.48 399.41v13.20M171.88 401.41l9.20 9.20M171.88 410.61l9.20 -9.20M174.11 405.49h13.20M180.71 398.89v13.20M176.11 400.89l9.20 9.20M176.11 410.09l9.20 -9.20M178.34 404.94h13.20M184.94 398.34v13.20M180.34 400.34l9.20 9.20M180.34 409.54l9.20 -9.20M182.57 404.32h13.20M189.17 397.72v13.20M184.57 399.72l9.20 9.20M184.57 408.92l9.20 -9.20M186.80 403.63h13.20M193.40 397.03v13.20M188.80 399.03l9.20 9.20M188.80 408.23l9.20 -9.20M191.03 402.87h13.20M197.63 396.27v13.20M193.03 398.27l9.20 9.20M193.03 407.47l9.20 -9.20M195.27 402.06h13.20M201.87 395.46v13.20M197.27 397.46l9.20 9.20M197.27 406.66l9.20 -9.20M199.50 401.22h13.20M206.10 394.62v13.20M201.50 396.62l9.20 9.20M201.50 405.82l9.20 -9.20M203.73 400.37h13.20M210.33 393.77v13.20M205.73 395.77l9.20 9.20M205.73 404.97l9.20 -9.20M207.96 399.53h13.20M214.56 392.93v13.20M209.96 394.93l9.20 9.20M209.96 404.13l9.20 -9.20M212.19 398.72h13.20M218.79 392.12v13.20M214.19 394.12l9.20 9.20M214.19 403.32l9.20 -9.20M216.42 397.94h13.20M223.02 391.34v13.20M218.42 393.34l9.20 9.20M218.42 402.54l9.20 -9.20M220.65 397.18h13.20M227.25 390.58v13.20M222.65 392.58l9.20 9.20M222.65 401.78l9.20 -9.20M224.88 396.43h13.20M231.48 389.83v13.20M226.88 391.83l9.20 9.20M226.88 401.03l9.20 -9.20M229.11 395.69h13.20M235.71 389.09v13.20M231.11 391.09l9.20 9.20M231.11 400.29l9.20 -9.20M233.34 394.96h13.20M239.94 388.36v13.20M235.34 390.36l9.20 9.20M235.34 399.56l9.20 -9.20M237.57 394.24h13.20M244.17 387.64v13.20M239.57 389.64l9.20 9.20M239.57 398.84l9.20 -9.20M241.80 393.51h13.20M248.40 386.91v13.20M243.80 388.91l9.20 9.20M243.80 398.11l9.20 -9.20M246.03 392.79h13.20M252.63 386.19v13.20M248.03 388.19l9.20 9.20M248.03 397.39l9.20 -9.20M250.26 392.07h13.20M256.86 385.47v13.20M252.26 387.47l9.20 9.20M252.26 396.67l9.20 -9.20M254.49 391.34h13.20M261.09 384.74v13.20M256.49 386.74l9.20 9.20M256.49 395.94l9.20 -9.20M258.72 390.61h13.20M265.32 384.01v13.20M260.72 386.01l9.20 9.20M260.72 395.21l9.20 -9.20M262.95 389.87h13.20M269.55 383.27v13.20M264.95 385.27l9.20 9.20M264.95 394.47l9.20 -9.20M267.18 389.12h13.20M273.78 382.52v13.20M269.18 384.52l9.20 9.20M269.18 393.72l9.20 -9.20M271.41 388.36h13.20M278.01 381.76v13.20M273.41 383.76l9.20 9.20M273.41 392.96l9.20 -9.20M275.64 387.58h13.20M282.24 380.98v13.20M277.64 382.98l9.20 9.20M277.64 392.18l9.20 -9.20M279.87 386.81h13.20M286.47 380.21v13.20M281.87 382.21l9.20 9.20M281.87 391.41l9.20 -9.20M284.11 386.03h13.20M290.71 379.43v13.20M286.11 381.43l9.20 9.20M286.11 390.63l9.20 -9.20M288.34 385.23h13.20M294.94 378.63v13.20M290.34 380.63l9.20 9.20M290.34 389.83l9.20 -9.20M292.57 384.38h13.20M299.17 377.78v13.20M294.57 379.78l9.20 9.20M294.57 388.98l9.20 -9.20M296.80 383.47h13.20M303.40 376.87v13.20M298.80 378.87l9.20 9.20M298.80 388.07l9.20 -9.20M301.03 382.52h13.20M307.63 375.92v13.20M303.03 377.92l9.20 9.20M303.03 387.12l9.20 -9.20M305.26 381.51h13.20M311.86 374.91v13.20M307.26 376.91l9.20 9.20M307.26 386.11l9.20 -9.20M309.49 380.48h13.20M316.09 373.88v13.20M311.49 375.88l9.20 9.20M311.49 385.08l9.20 -9.20M313.72 379.41h13.20M320.32 372.81v13.20M315.72 374.81l9.20 9.20M315.72 384.01l9.20 -9.20M317.95 378.32h13.20M324.55 371.72v13.20M319.95 373.72l9.20 9.20M319.95 382.92l9.20 -9.20M322.18 377.22h13.20M328.78 370.62v13.20M324.18 372.62l9.20 9.20M324.18 381.82l9.20 -9.20M326.41 376.12h13.20M333.01 369.52v13.20M328.41 371.52l9.20 9.20M328.41 380.72l9.20 -9.20M330.64 375.02h13.20M337.24 368.42v13.20M332.64 370.42l9.20 9.20M332.64 379.62l9.20 -9.20M334.87 373.93h13.20M341.47 367.33v13.20M336.87 369.33l9.20 9.20M336.87 378.53l9.20 -9.20M339.10 372.86h13.20M345.70 366.26v13.20M341.10 368.26l9.20 9.20M341.10 377.46l9.20 -9.20M343.33 371.81h13.20M349.93 365.21v13.20M345.33 367.21l9.20 9.20M345.33 376.41l9.20 -9.20M347.56 370.80h13.20M354.16 364.20v13.20M349.56 366.20l9.20 9.20M349.56 375.40l9.20 -9.20M351.79 369.80h13.20M358.39 363.20v13.20M353.79 365.20l9.20 9.20M353.79 374.40l9.20 -9.20M356.02 368.82h13.20M362.62 362.22v13.20M358.02 364.22l9.20 9.20M358.02 373.42l9.20 -9.20M360.25 367.86h13.20M366.85 361.26v13.20M362.25 363.26l9.20 9.20M362.25 372.46l9.20 -9.20M364.48 366.90h13.20M371.08 360.30v13.20M366.48 362.30l9.20 9.20M366.48 371.50l9.20 -9.20M368.72 365.95h13.20M375.32 359.35v13.20M370.72 361.35l9.20 9.20M370.72 370.55l9.20 -9.20M372.95 365.00h13.20M379.55 358.40v13.20M374.95 360.40l9.20 9.20M374.95 369.60l9.20 -9.20M377.18 364.05h13.20M383.78 357.45v13.20M379.18 359.45l9.20 9.20M379.18 368.65l9.20 -9.20M381.41 363.10h13.20M388.01 356.50v13.20M383.41 358.50l9.20 9.20M383.41 367.70l9.20 -9.20M385.64 362.14h13.20M392.24 355.54v13.20M387.64 357.54l9.20 9.20M387.64 366.74l9.20 -9.20M389.87 361.16h13.20M396.47 354.56v13.20M391.87 356.56l9.20 9.20M391.87 365.76l9.20 -9.20M394.10 360.17h13.20M400.70 353.57v13.20M396.10 355.57l9.20 9.20M396.10 364.77l9.20 -9.20M398.33 359.16h13.20M404.93 352.56v13.20M400.33 354.56l9.20 9.20M400.33 363.76l9.20 -9.20M402.56 358.12h13.20M409.16 351.52v13.20M404.56 353.52l9.20 9.20M404.56 362.72l9.20 -9.20M406.79 357.06h13.20M413.39 350.46v13.20M408.79 352.46l9.20 9.20M408.79 361.66l9.20 -9.20M411.02 355.97h13.20M417.62 349.37v13.20M413.02 351.37l9.20 9.20M413.02 360.57l9.20 -9.20M415.25 354.85h13.20M421.85 348.25v13.20M417.25 350.25l9.20 9.20M417.25 359.45l9.20 -9.20M419.48 353.69h13.20M426.08 347.09v13.20M421.48 349.09l9.20 9.20M421.48 358.29l9.20 -9.20M423.71 352.51h13.20M430.31 345.91v13.20M425.71 347.91l9.20 9.20M425.71 357.11l9.20 -9.20M427.94 351.30h13.20M434.54 344.70v13.20M429.94 346.70l9.20 9.20M429.94 355.90l9.20 -9.20M432.17 350.06h13.20M438.77 343.46v13.20M434.17 345.46l9.20 9.20M434.17 354.66l9.20 -9.20M436.40 348.80h13.20M443.00 342.20v13.20M438.40 344.20l9.20 9.20M438.40 353.40l9.20 -9.20M440.63 347.52h13.20M447.23 340.92v13.20M442.63 342.92l9.20 9.20M442.63 352.12l9.20 -9.20M444.86 346.22h13.20M451.46 339.62v13.20M446.86 341.62l9.20 9.20M446.86 350.82l9.20 -9.20M449.09 344.90h13.20M455.69 338.30v13.20M451.09 340.30l9.20 9.20M451.09 349.50l9.20 -9.20M453.33 343.56h13.20M459.93 336.96v13.20M455.33 338.96l9.20 9.20M455.33 348.16l9.20 -9.20M457.56 342.21h13.20M464.16 335.61v13.20M459.56 337.61l9.20 9.20M459.56 346.81l9.20 -9.20M461.79 340.84h13.20M468.39 334.24v13.20M463.79 336.24l9.20 9.20M463.79 345.44l9.20 -9.20M466.02 339.47h13.20M472.62 332.87v13.20M468.02 334.87l9.20 9.20M468.02 344.07l9.20 -9.20M470.25 338.08h13.20M476.85 331.48v13.20M472.25 333.48l9.20 9.20M472.25 342.68l9.20 -9.20M474.48 336.68h13.20M481.08 330.08v13.20M476.48 332.08l9.20 9.20M476.48 341.28l9.20 -9.20M478.71 335.28h13.20M485.31 328.68v13.20M480.71 330.68l9.20 9.20M480.71 339.88l9.20 -9.20M482.94 333.88h13.20M489.54 327.28v13.20M484.94 329.28l9.20 9.20M484.94 338.48l9.20 -9.20M487.17 332.46h13.20M493.77 325.86v13.20M489.17 327.86l9.20 9.20M489.17 337.06l9.20 -9.20M491.40 331.04h13.20M498.00 324.44v13.20M493.40 326.44l9.20 9.20M493.40 335.64l9.20 -9.20M495.63 329.60h13.20M502.23 323.00v13.20M497.63 325.00l9.20 9.20M497.63 334.20l9.20 -9.20M499.86 328.15h13.20M506.46 321.55v13.20M501.86 323.55l9.20 9.20M501.86 332.75l9.20 -9.20M504.09 326.68h13.20M510.69 320.08v13.20M506.09 322.08l9.20 9.20M506.09 331.28l9.20 -9.20M508.32 325.20h13.20M514.92 318.60v13.20M510.32 320.60l9.20 9.20M510.32 329.80l9.20 -9.20M512.55 323.71h13.20M519.15 317.11v13.20M514.55 319.11l9.20 9.20M514.55 328.31l9.20 -9.20M516.78 322.20h13.20M523.38 315.60v13.20M518.78 317.60l9.20 9.20M518.78 326.80l9.20 -9.20M521.01 320.68h13.20M527.61 314.08v13.20M523.01 316.08l9.20 9.20M523.01 325.28l9.20 -9.20M525.24 319.14h13.20M531.84 312.54v13.20M527.24 314.54l9.20 9.20M527.24 323.74l9.20 -9.20M529.47 317.59h13.20M536.07 310.99v13.20M531.47 312.99l9.20 9.20M531.47 322.19l9.20 -9.20M533.71 316.02h13.20M540.31 309.42v13.20M535.71 311.42l9.20 9.20M535.71 320.62l9.20 -9.20M537.94 314.44h13.20M544.54 307.84v13.20M539.94 309.84l9.20 9.20M539.94 319.04l9.20 -9.20M542.17 312.84h13.20M548.77 306.24v13.20M544.17 308.24l9.20 9.20M544.17 317.44l9.20 -9.20M546.40 311.23h13.20M553.00 304.63v13.20M548.40 306.63l9.20 9.20M548.40 315.83l9.20 -9.20M550.63 309.59h13.20M557.23 302.99v13.20M552.63 304.99l9.20 9.20M552.63 314.19l9.20 -9.20M554.86 307.95h13.20M561.46 301.35v13.20M556.86 303.35l9.20 9.20M556.86 312.55l9.20 -9.20M559.09 306.28h13.20M565.69 299.68v13.20M561.09 301.68l9.20 9.20M561.09 310.88l9.20 -9.20M563.32 304.60h13.20M569.92 298.00v13.20M565.32 300.00l9.20 9.20M565.32 309.20l9.20 -9.20M567.55 302.89h13.20M574.15 296.29v13.20M569.55 298.29l9.20 9.20M569.55 307.49l9.20 -9.20M571.78 301.17h13.20M578.38 294.57v13.20M573.78 296.57l9.20 9.20M573.78 305.77l9.20 -9.20M576.01 299.43h13.20M582.61 292.83v13.20M578.01 294.83l9.20 9.20M578.01 304.03l9.20 -9.20M580.24 297.67h13.20M586.84 291.07v13.20M582.24 293.07l9.20 9.20M582.24 302.27l9.20 -9.20M584.47 295.90h13.20M591.07 289.30v13.20M586.47 291.30l9.20 9.20M586.47 300.50l9.20 -9.20M588.70 294.10h13.20M595.30 287.50v13.20M590.70 289.50l9.20 9.20M590.70 298.70l9.20 -9.20M592.93 292.29h13.20M599.53 285.69v13.20M594.93 287.69l9.20 9.20M594.93 296.89l9.20 -9.20M597.16 290.46h13.20M603.76 283.86v13.20M599.16 285.86l9.20 9.20M599.16 295.06l9.20 -9.20M601.39 288.61h13.20M607.99 282.01v13.20M603.39 284.01l9.20 9.20M603.39 293.21l9.20 -9.20M605.62 286.75h13.20M612.22 280.15v13.20M607.62 282.15l9.20 9.20M607.62 291.35l9.20 -9.20M609.85 284.86h13.20M616.45 278.26v13.20M611.85 280.26l9.20 9.20M611.85 289.46l9.20 -9.20M614.08 282.96h13.20M620.68 276.36v13.20M616.08 278.36l9.20 9.20M616.08 287.56l9.20 -9.20M618.32 281.05h13.20M624.92 274.45v13.20M620.32 276.45l9.20 9.20M620.32 285.65l9.20 -9.20M622.55 279.11h13.20M629.15 272.51v13.20M624.55 274.51l9.20 9.20M624.55 283.71l9.20 -9.20M626.78 277.15h13.20M633.38 270.55v13.20M628.78 272.55l9.20 9.20M628.78 281.75l9.20 -9.20M631.01 275.10h13.20M637.61 268.50v13.20M633.01 270.50l9.20 9.20M633.01 279.70l9.20 -9.20M635.24 272.97h13.20M641.84 266.37v13.20M637.24 268.37l9.20 9.20M637.24 277.57l9.20 -9.20M639.47 270.78h13.20M646.07 264.18v13.20M641.47 266.18l9.20 9.20M641.47 275.38l9.20 -9.20M643.70 268.55h13.20M650.30 261.95v13.20M645.70 263.95l9.20 9.20M645.70 273.15l9.20 -9.20M647.93 266.29h13.20M654.53 259.69v13.20M649.93 261.69l9.20 9.20M649.93 270.89l9.20 -9.20M652.16 263.99h13.20M658.76 257.39v13.20M654.16 259.39l9.20 9.20M654.16 268.59l9.20 -9.20M656.39 261.66h13.20M662.99 255.06v13.20M658.39 257.06l9.20 9.20M658.39 266.26l9.20 -9.20M660.62 259.30h13.20M667.22 252.70v13.20M662.62 254.70l9.20 9.20M662.62 263.90l9.20 -9.20M664.85 256.91h13.20M671.45 250.31v13.20M666.85 252.31l9.20 9.20M666.85 261.51l9.20 -9.20M669.08 254.49h13.20M675.68 247.89v13.20M671.08 249.89l9.20 9.20M671.08 259.09l9.20 -9.20M673.31 252.04h13.20M679.91 245.44v13.20M675.31 247.44l9.20 9.20M675.31 256.64l9.20 -9.20M677.54 249.56h13.20M684.14 242.96v13.20M679.54 244.96l9.20 9.20M679.54 254.16l9.20 -9.20M681.77 247.06h13.20M688.37 240.46v13.20M683.77 242.46l9.20 9.20M683.77 251.66l9.20 -9.20M686.00 244.53h13.20M692.60 237.93v13.20M688.00 239.93l9.20 9.20M688.00 249.13l9.20 -9.20M690.23 241.98h13.20M696.83 235.38v13.20M692.23 237.38l9.20 9.20M692.23 246.58l9.20 -9.20M694.46 239.40h13.20M701.06 232.80v13.20M696.46 234.80l9.20 9.20M696.46 244.00l9.20 -9.20M698.69 236.79h13.20M705.29 230.19v13.20M700.69 232.19l9.20 9.20M700.69 241.39l9.20 -9.20M702.93 234.14h13.20M709.53 227.54v13.20M704.93 229.54l9.20 9.20M704.93 238.74l9.20 -9.20M707.16 231.44h13.20M713.76 224.84v13.20M709.16 226.84l9.20 9.20M709.16 236.04l9.20 -9.20M711.39 228.69h13.20M717.99 222.09v13.20M713.39 224.09l9.20 9.20M713.39 233.29l9.20 -9.20M715.62 225.89h13.20M722.22 219.29v13.20M717.62 221.29l9.20 9.20M717.62 230.49l9.20 -9.20M719.85 223.03h13.20M726.45 216.43v13.20M721.85 218.43l9.20 9.20M721.85 227.63l9.20 -9.20M724.08 220.10h13.20M730.68 213.50v13.20M726.08 215.50l9.20 9.20M726.08 224.70l9.20 -9.20M728.31 217.06h13.20M734.91 210.46v13.20M730.31 212.46l9.20 9.20M730.31 221.66l9.20 -9.20M732.54 213.90h13.20M739.14 207.30v13.20M734.54 209.30l9.20 9.20M734.54 218.50l9.20 -9.20M736.77 210.65h13.20M743.37 204.05v13.20M738.77 206.05l9.20 9.20M738.77 215.25l9.20 -9.20M741.00 207.35h13.20M747.60 200.75v13.20M743.00 202.75l9.20 9.20M743.00 211.95l9.20 -9.20M745.23 204.04h13.20M751.83 197.44v13.20M747.23 199.44l9.20 9.20M747.23 208.64l9.20 -9.20M749.46 200.76h13.20M756.06 194.16v13.20M751.46 196.16l9.20 9.20M751.46 205.36l9.20 -9.20M753.69 197.49h13.20M760.29 190.89v13.20M755.69 192.89l9.20 9.20M755.69 202.09l9.20 -9.20M757.92 194.21h13.20M764.52 187.61v13.20M759.92 189.61l9.20 9.20M759.92 198.81l9.20 -9.20M762.15 190.90h13.20M768.75 184.30v13.20M764.15 186.30l9.20 9.20M764.15 195.50l9.20 -9.20M766.38 187.60h13.20M772.98 181.00v13.20M768.38 183.00l9.20 9.20M768.38 192.20l9.20 -9.20M770.61 184.34h13.20M777.21 177.74v13.20M772.61 179.74l9.20 9.20M772.61 188.94l9.20 -9.20M774.84 181.12h13.20M781.44 174.52v13.20M776.84 176.52l9.20 9.20M776.84 185.72l9.20 -9.20M779.07 177.91h13.20M785.67 171.31v13.20M781.07 173.31l9.20 9.20M781.07 182.51l9.20 -9.20M783.30 174.68h13.20M789.90 168.08v13.20M785.30 170.08l9.20 9.20M785.30 179.28l9.20 -9.20M787.53 171.40h13.20M794.13 164.80v13.20M789.53 166.80l9.20 9.20M789.53 176.00l9.20 -9.20M791.77 168.04h13.20M798.37 161.44v13.20M793.77 163.44l9.20 9.20M793.77 172.64l9.20 -9.20M796.00 164.57h13.20M802.60 157.97v13.20M798.00 159.97l9.20 9.20M798.00 169.17l9.20 -9.20M800.23 160.97h13.20M806.83 154.37v13.20M802.23 156.37l9.20 9.20M802.23 165.57l9.20 -9.20M804.46 157.21h13.20M811.06 150.61v13.20M806.46 152.61l9.20 9.20M806.46 161.81l9.20 -9.20M808.69 153.21h13.20M815.29 146.61v13.20M810.69 148.61l9.20 9.20M810.69 157.81l9.20 -9.20M812.92 148.97h13.20M819.52 142.37v13.20M814.92 144.37l9.20 9.20M814.92 153.57l9.20 -9.20M817.15 144.56h13.20M823.75 137.96v13.20M819.15 139.96l9.20 9.20M819.15 149.16l9.20 -9.20M821.38 140.05h13.20M827.98 133.45v13.20M823.38 135.45l9.20 9.20M823.38 144.65l9.20 -9.20M825.61 135.48h13.20M832.21 128.88v13.20M827.61 130.88l9.20 9.20M827.61 140.08l9.20 -9.20M829.84 130.75h13.20M836.44 124.15v13.20M831.84 126.15l9.20 9.20M831.84 135.35l9.20 -9.20M834.07 125.86h13.20M840.67 119.26v13.20M836.07 121.26l9.20 9.20M836.07 130.46l9.20 -9.20M838.30 120.85h13.20M844.90 114.25v13.20M840.30 116.25l9.20 9.20M840.30 125.45l9.20 -9.20M842.53 115.77h13.20M849.13 109.17v13.20M844.53 111.17l9.20 9.20M844.53 120.37l9.20 -9.20M846.76 110.60h13.20M853.36 104.00v13.20M848.76 106.00l9.20 9.20M848.76 115.20l9.20 -9.20M850.99 105.34h13.20M857.59 98.74v13.20M852.99 100.74l9.20 9.20M852.99 109.94l9.20 -9.20M855.22 100.00h13.20M861.82 93.40v13.20M857.22 95.40l9.20 9.20M857.22 104.60l9.20 -9.20M859.45 94.55h13.20M866.05 87.95v13.20M861.45 89.95l9.20 9.20M861.45 99.15l9.20 -9.20M863.68 89.00h13.20M870.28 82.40v13.20M865.68 84.40l9.20 9.20M865.68 93.60l9.20 -9.20M867.91 83.36h13.20M874.51 76.76v13.20M869.91 78.76l9.20 9.20M869.91 87.96l9.20 -9.20M872.15 77.62h13.20M878.75 71.02v13.20M874.15 73.02l9.20 9.20M874.15 82.22l9.20 -9.20M876.38 71.81h13.20M882.98 65.21v13.20M878.38 67.21l9.20 9.20M878.38 76.41l9.20 -9.20M880.61 65.91h13.20M887.21 59.31v13.20M882.61 61.31l9.20 9.20M882.61 70.51l9.20 -9.20M884.84 59.92h13.20M891.44 53.32v13.20M886.84 55.32l9.20 9.20M886.84 64.52l9.20 -9.20M889.07 53.85h13.20M895.67 47.25v13.20M891.07 49.25l9.20 9.20M891.07 58.45l9.20 -9.20M893.30 47.68h13.20M899.90 41.08v13.20M895.30 43.08l9.20 9.20M895.30 52.28l9.20 -9.20M897.53 41.43h13.20M904.13 34.83v13.20M899.53 36.83l9.20 9.20M899.53 46.03l9.20 -9.20M901.76 35.09h13.20M908.36 28.49v13.20M903.76 30.49l9.20 9.20M903.76 39.69l9.20 -9.20M905.99 28.65h13.20M912.59 22.05v13.20M907.99 24.05l9.20 9.20M907.99 33.25l9.20 -9.20M910.22 22.12h13.20M916.82 15.52v13.20M912.22 17.52l9.20 9.20M912.22 26.72l9.20 -9.20" stroke="#ff0000" stroke-width="1.08" fill="none"/>
<g font-size="23.6" fill="#1c1c1c" stroke="#1c1c1c" stroke-width="0.35"><text transform="translate(73.80 618) scale(1 1.07)" text-anchor="middle">0</text><text transform="translate(159.55 618) scale(1 1.07)" text-anchor="middle">10</text><text transform="translate(244.10 618) scale(1 1.07)" text-anchor="middle">20</text><text transform="translate(328.65 618) scale(1 1.07)" text-anchor="middle">30</text><text transform="translate(413.20 618) scale(1 1.07)" text-anchor="middle">40</text><text transform="translate(497.75 618) scale(1 1.07)" text-anchor="middle">50</text><text transform="translate(582.30 618) scale(1 1.07)" text-anchor="middle">60</text><text transform="translate(666.85 618) scale(1 1.07)" text-anchor="middle">70</text><text transform="translate(751.40 618) scale(1 1.07)" text-anchor="middle">80</text><text transform="translate(835.95 618) scale(1 1.07)" text-anchor="middle">90</text><text transform="translate(920.50 618) scale(1 1.07)" text-anchor="middle">100</text><text transform="translate(63.6 591.35) scale(1 1.07)" text-anchor="end">0</text><text transform="translate(63.6 477.57) scale(1 1.07)" text-anchor="end">2</text><text transform="translate(63.6 363.79) scale(1 1.07)" text-anchor="end">4</text><text transform="translate(63.6 250.01) scale(1 1.07)" text-anchor="end">6</text><text transform="translate(63.6 136.23) scale(1 1.07)" text-anchor="end">8</text><text transform="translate(63.6 22.45) scale(1 1.07)" text-anchor="end">10</text></g>
<text transform="translate(497.2 654.2) scale(1.10 1.05)" text-anchor="middle" font-size="25.6" fill="#1c1c1c" stroke="#1c1c1c" stroke-width="0.3">LPS (ng/mL)</text>
<text transform="translate(24.8 297) rotate(-90) scale(1.10 1.05)" text-anchor="middle" font-size="25.6" fill="#1c1c1c" stroke="#1c1c1c" stroke-width="0.3">FPR1/BLT1 at 5 hours</text>
<rect x="85.2" y="28.7" width="276.4" height="147.5" fill="#fff" stroke="#4a4a4a" stroke-width="1.4"/>
<g fill="#000" stroke="#000" stroke-width="0.3"><text transform="translate(92.70 58.30) scale(1.0 1)" font-size="22">*</text><text transform="translate(109.20 60.30) scale(1.0 1)" font-size="25.6">c</text><text transform="translate(122.60 72.50) scale(1.0 1)" font-size="20.5">w</text><text transform="translate(138.20 60.30) scale(0.975 1)" font-size="25.6">=28,</text><text transform="translate(195.00 60.30) scale(1.0 1)" font-size="25.6">b</text><text transform="translate(209.90 72.50) scale(0.96 1)" font-size="20.5">wf</text><text transform="translate(230.20 60.30) scale(1.0 1)" font-size="25.6">=5</text><text transform="translate(261.20 63.90) scale(1.0 1)" font-size="31" font-family="Liberation Serif, serif">×</text><text transform="translate(288.20 60.30) scale(0.955 1)" font-size="25.6">10</text><text transform="translate(316.20 47.90) scale(0.92 1)" font-size="20.5">-4</text></g>
<g fill="#0000ff" stroke="#0000ff" stroke-width="0.3"><text transform="translate(92.70 104.80) scale(1.0 1)" font-size="22">*</text><text transform="translate(109.20 106.80) scale(1.0 1)" font-size="25.6">c</text><text transform="translate(122.60 119.00) scale(1.0 1)" font-size="20.5">w</text><text transform="translate(138.20 106.80) scale(0.975 1)" font-size="25.6">=15,</text><text transform="translate(195.00 106.80) scale(1.0 1)" font-size="25.6">b</text><text transform="translate(209.90 119.00) scale(0.96 1)" font-size="20.5">wf</text><text transform="translate(230.80 106.80) scale(0.975 1)" font-size="25.6">=0.13</text></g>
<g fill="#ff0000" stroke="#ff0000" stroke-width="0.3"><text transform="translate(92.70 151.60) scale(1.0 1)" font-size="22">*</text><text transform="translate(109.20 153.60) scale(1.0 1)" font-size="25.6">c</text><text transform="translate(122.60 165.80) scale(1.0 1)" font-size="20.5">w</text><text transform="translate(138.20 153.60) scale(0.95 1)" font-size="25.6">=5,</text><text transform="translate(181.30 153.60) scale(1.0 1)" font-size="25.6">b</text><text transform="translate(196.20 165.80) scale(0.96 1)" font-size="20.5">wf</text><text transform="translate(217.30 153.60) scale(0.975 1)" font-size="25.6">=0.245</text></g>
</svg>
</body></html>
